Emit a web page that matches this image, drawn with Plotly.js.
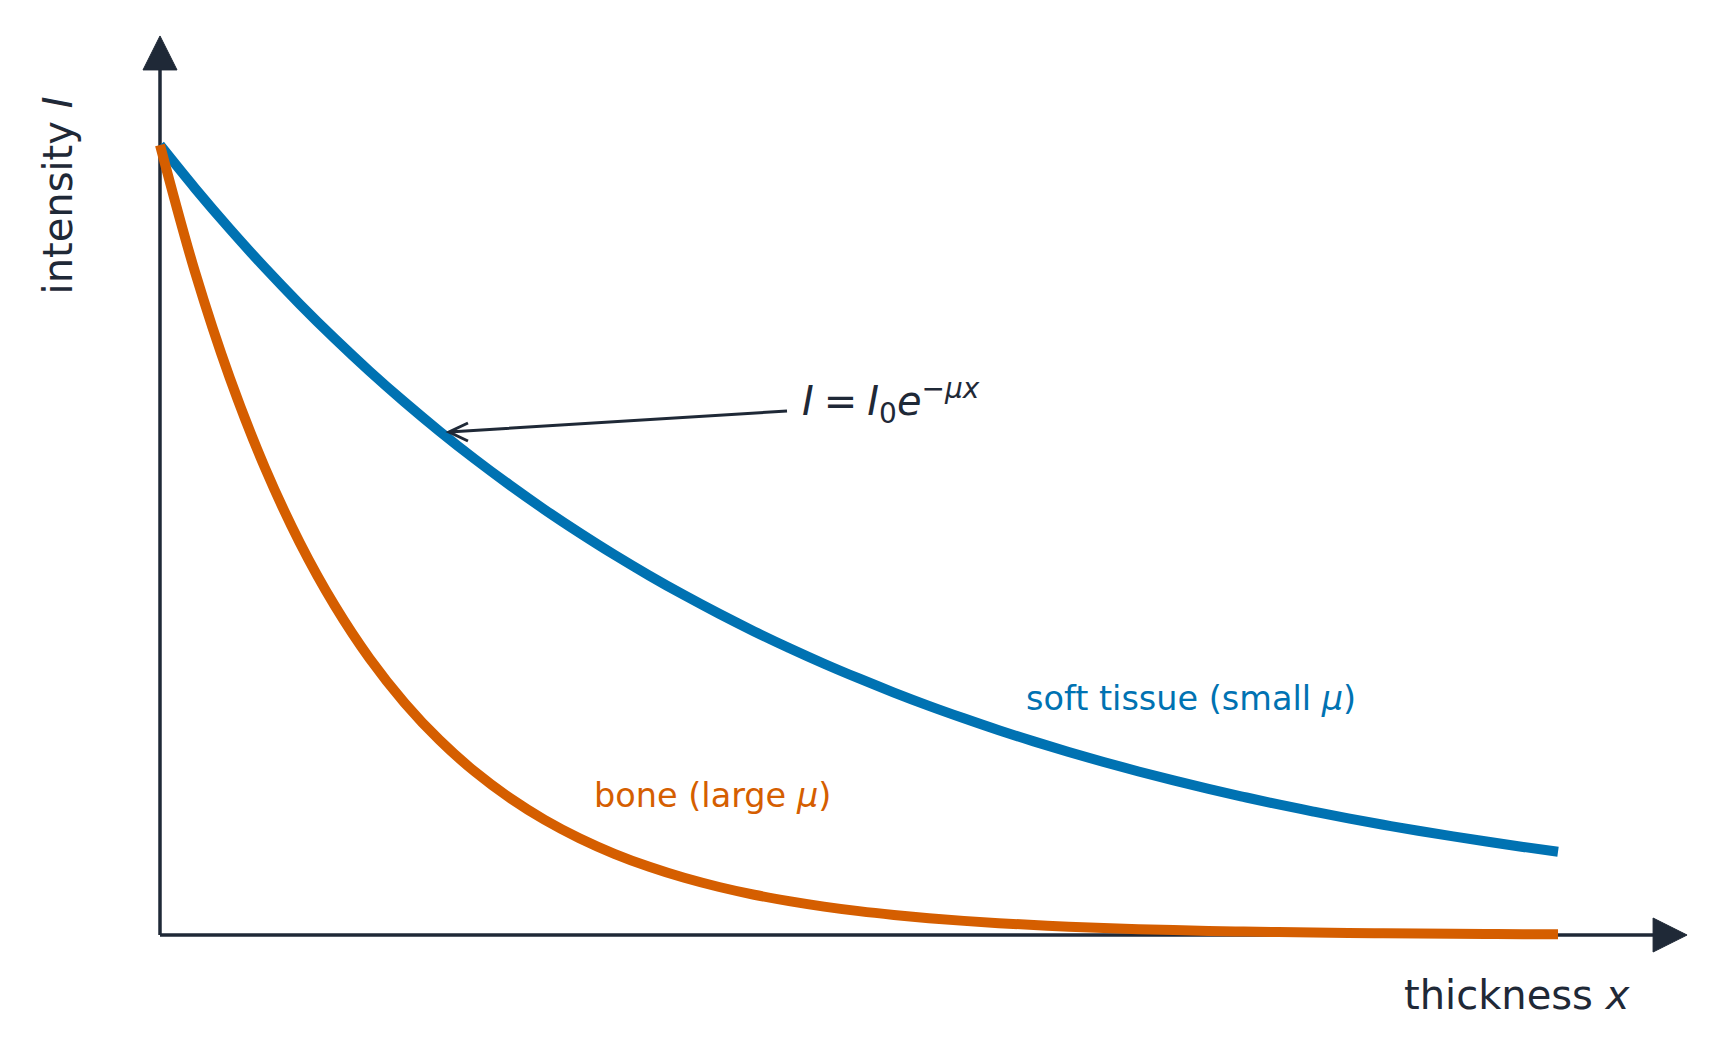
<!DOCTYPE html>
<html>
<head>
<meta charset="utf-8">
<script src="https://cdn.plot.ly/plotly-3.0.1.min.js"></script>
<style>html,body{margin:0;padding:0;background:#fff;}#chart{width:1723px;height:1059px;}</style>
</head>
<body>
<div id="chart"></div>
<script>
// thickness values (arbitrary units)
const thickness = [0,0.25,0.5,0.75,1,1.25,1.5,1.75,2,2.25,2.5,2.75,3,3.25,3.5,3.75,4,4.25,4.5,4.75,5,5.25,5.5,5.75,6,6.25,6.5,6.75,7,7.25,7.5,7.75,8,8.25,8.5,8.75,9,9.25,9.5,9.75,10];
// soft tissue intensity (relative to I0)
const softTissue = [1.0000,0.9453,0.8936,0.8447,0.7985,0.7548,0.7135,0.6745,0.6376,0.6027,0.5698,0.5386,0.5092,0.4813,0.4550,0.4301,0.4066,0.3843,0.3633,0.3434,0.3247,0.3069,0.2901,0.2743,0.2592,0.2451,0.2317,0.2190,0.2070,0.1957,0.1850,0.1749,0.1653,0.1563,0.1477,0.1396,0.1320,0.1248,0.1180,0.1115,0.1054];
// bone intensity (relative to I0)
const bone = [1.0000,0.8395,0.7047,0.5916,0.4966,0.4169,0.3499,0.2938,0.2466,0.2070,0.1738,0.1459,0.1225,0.1028,0.0863,0.0724,0.0608,0.0510,0.0429,0.0360,0.0302,0.0254,0.0213,0.0179,0.0150,0.0126,0.0106,0.0089,0.0074,0.0062,0.0052,0.0044,0.0037,0.0031,0.0026,0.0022,0.0018,0.0015,0.0013,0.0011,0.0009];

const labels = {
  x: 'thickness <i>x</i>',
  y: 'intensity <i>I</i>',
  soft: 'soft tissue (small <i>μ</i>)',
  bone: 'bone (large <i>μ</i>)',
  formula: '<i>I</i>\u2005=\u2005<i>I</i><sub>0</sub><i>e</i><sup>−<i>μx</i></sup>'
};

const ink = '#1f2937';
const blue = '#0072B2';
const orange = '#D55E00';
const font = 'DejaVu Sans, sans-serif';

const traces = [
  {x: thickness, y: softTissue, mode: 'lines', line: {color: blue, width: 10, shape: 'spline'}, hoverinfo: 'skip', showlegend: false},
  {x: thickness, y: bone, mode: 'lines', line: {color: orange, width: 10, shape: 'spline'}, hoverinfo: 'skip', showlegend: false}
];

const layout = {
  width: 1723, height: 1059,
  margin: {l: 20, r: 20, t: 20, b: 40},
  paper_bgcolor: '#fff', plot_bgcolor: '#fff',
  showlegend: false,
  xaxis: {range: [-1.0014, 11.037], showgrid: false, zeroline: false, showticklabels: false, showline: false, ticks: '', fixedrange: true},
  yaxis: {range: [-0.1063, 1.1582], showgrid: false, zeroline: false, showticklabels: false, showline: false, ticks: '', fixedrange: true},
  shapes: [
    // axes
    {type: 'line', xref: 'x', yref: 'y', x0: 0, y0: 0, x1: 10.75, y1: 0, line: {color: ink, width: 3.5}, layer: 'below'},
    {type: 'line', xref: 'x', yref: 'y', x0: 0, y0: 0, x1: 0, y1: 1.11, line: {color: ink, width: 3.5}, layer: 'below'},
    {type: 'path', xref: 'x', yref: 'y', path: 'M 10.68 0.0215 L 10.923 0 L 10.68 -0.0215 Z', fillcolor: ink, line: {color: ink, width: 1}, layer: 'above'},
    {type: 'path', xref: 'x', yref: 'y', path: 'M -0.1216 1.095 L 0 1.138 L 0.1216 1.095 Z', fillcolor: ink, line: {color: ink, width: 1}, layer: 'above'},
    // annotation arrow
    {type: 'path', xref: 'x', yref: 'y', path: 'M 4.485 0.6633 L 2.067 0.6367 M 2.203 0.6481 L 2.067 0.6367 L 2.203 0.6253', line: {color: ink, width: 3}, layer: 'above'}
  ],
  annotations: [
    {x: 4.58, y: 0.676, xref: 'x', yref: 'y', text: labels.formula, showarrow: false, xanchor: 'left', yanchor: 'middle', font: {family: font, size: 40, color: ink}},
    {x: 6.18, y: 0.3, xref: 'x', yref: 'y', text: labels.soft, showarrow: false, xanchor: 'left', yanchor: 'middle', font: {family: font, size: 33.5, color: blue}},
    {x: 3.09, y: 0.177, xref: 'x', yref: 'y', text: labels.bone, showarrow: false, xanchor: 'left', yanchor: 'middle', font: {family: font, size: 33.5, color: orange}},
    {x: 8.885, y: -0.0765, xref: 'x', yref: 'y', text: labels.x, showarrow: false, xanchor: 'left', yanchor: 'middle', font: {family: font, size: 40, color: ink}},
    {x: -0.7296, y: 0.9361, xref: 'x', yref: 'y', text: labels.y, showarrow: false, textangle: -90, xanchor: 'center', yanchor: 'middle', font: {family: font, size: 40, color: ink}}
  ]
};

Plotly.newPlot('chart', traces, layout, {displayModeBar: false, staticPlot: true});
</script>
</body>
</html>
